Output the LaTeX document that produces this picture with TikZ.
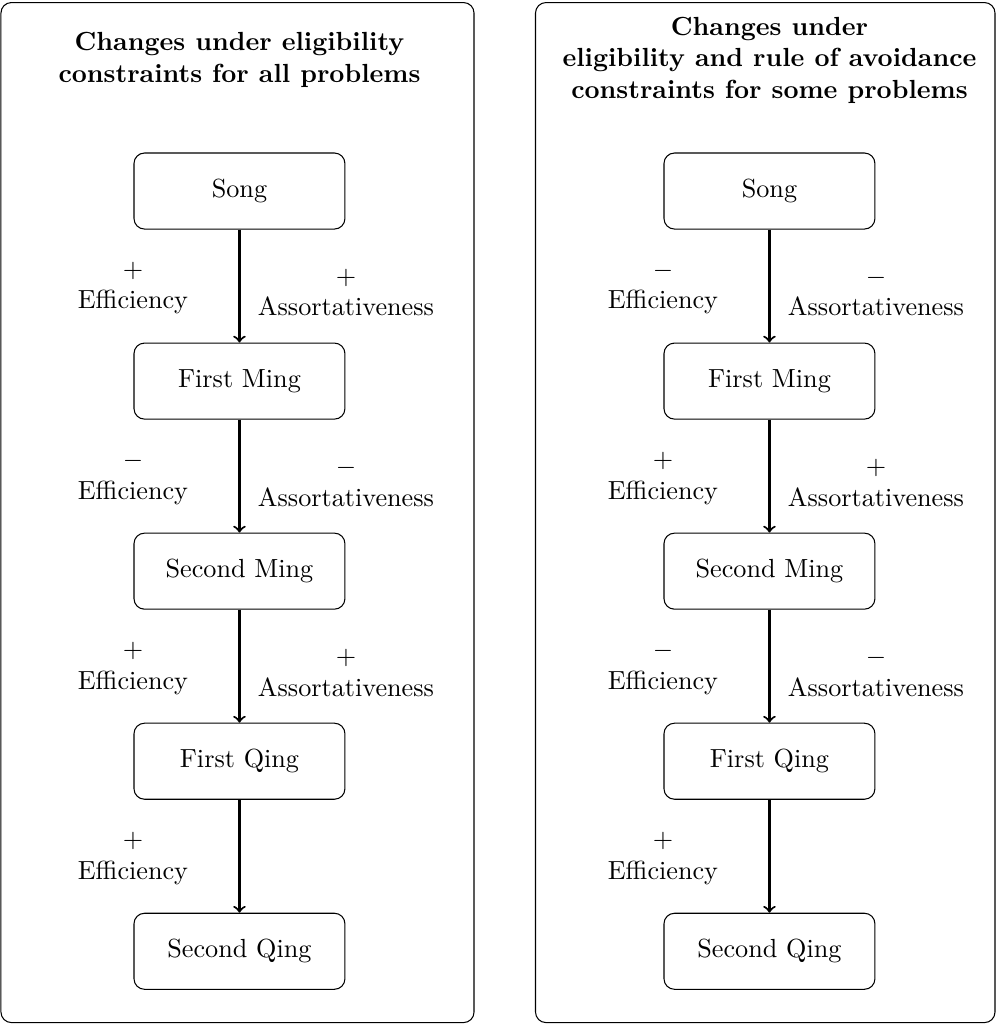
\documentclass[tikz,border=0pt]{standalone}
\usepackage{amsmath, amssymb}
\usepackage{tikz}
\usetikzlibrary{positioning}

\begin{document}
\begin{tikzpicture}[
        era/.style={draw, rounded corners, minimum width=2.83cm, minimum height=1.02cm},
        change/.style={align=center},
        heading/.style={align=center, font=\bfseries},
        flow/.style={->, thick}
    ]
        \pgfmathsetmacro{\leftCenter}{3.213}
        \pgfmathsetmacro{\rightCenter}{10.324}
        \pgfmathsetmacro{\boxGap}{1.516}
        \pgfmathsetmacro{\labelOffset}{1.429}
        \pgfmathsetmacro{\firstRow}{-2.563}

        \useasboundingbox (0, 0) rectangle (13.363, -13.766);

        % panels
        \draw[rounded corners] (0.013, -0.034) rectangle (6.36, -13.72);
        \draw[rounded corners] (7.185, -0.034) rectangle (13.35, -13.72);

        % left panel
        \node[heading] (leftTitle) at (\leftCenter, -0.805)
            {Changes under eligibility\\constraints for all problems};
        \node[era] (leftSong) at (\leftCenter, \firstRow) {Song};
        \node[era, below=\boxGap cm of leftSong] (leftFirstMing) {First Ming};
        \node[era, below=\boxGap cm of leftFirstMing] (leftSecondMing) {Second Ming};
        \node[era, below=\boxGap cm of leftSecondMing] (leftFirstQing) {First Qing};
        \node[era, below=\boxGap cm of leftFirstQing] (leftSecondQing) {Second Qing};

        \draw[flow] (leftSong) --
            node[change, xshift=-\labelOffset cm, yshift=-0.03cm]{$+$\\Efficiency}
            node[change, xshift=+\labelOffset cm, yshift=-0.09cm]{$+$\\Assortativeness} (leftFirstMing);
        \draw[flow] (leftFirstMing) --
            node[change, xshift=-\labelOffset cm, yshift=-0.03cm]{$-$\\Efficiency}
            node[change, xshift=+\labelOffset cm, yshift=-0.09cm]{$-$\\Assortativeness} (leftSecondMing);
        \draw[flow] (leftSecondMing) --
            node[change, xshift=-\labelOffset cm, yshift=-0.03cm]{$+$\\Efficiency}
            node[change, xshift=+\labelOffset cm, yshift=-0.09cm]{$+$\\Assortativeness} (leftFirstQing);
        \draw[flow] (leftFirstQing) --
            node[change, xshift=-\labelOffset cm, yshift=-0.03cm]{$+$\\Efficiency} (leftSecondQing);

        % right panel
        \node[heading] (rightTitle) at (\rightCenter, -0.805)
            {Changes under\\eligibility and rule of avoidance\\constraints for some problems};
        \node[era] (rightSong) at (\rightCenter, \firstRow) {Song};
        \node[era, below=\boxGap cm of rightSong] (rightFirstMing) {First Ming};
        \node[era, below=\boxGap cm of rightFirstMing] (rightSecondMing) {Second Ming};
        \node[era, below=\boxGap cm of rightSecondMing] (rightFirstQing) {First Qing};
        \node[era, below=\boxGap cm of rightFirstQing] (rightSecondQing) {Second Qing};

        \draw[flow] (rightSong) --
            node[change, xshift=-\labelOffset cm, yshift=-0.03cm]{$-$\\Efficiency}
            node[change, xshift=+\labelOffset cm, yshift=-0.09cm]{$-$\\Assortativeness} (rightFirstMing);
        \draw[flow] (rightFirstMing) --
            node[change, xshift=-\labelOffset cm, yshift=-0.03cm]{$+$\\Efficiency}
            node[change, xshift=+\labelOffset cm, yshift=-0.09cm]{$+$\\Assortativeness} (rightSecondMing);
        \draw[flow] (rightSecondMing) --
            node[change, xshift=-\labelOffset cm, yshift=-0.03cm]{$-$\\Efficiency}
            node[change, xshift=+\labelOffset cm, yshift=-0.09cm]{$-$\\Assortativeness} (rightFirstQing);
        \draw[flow] (rightFirstQing) --
            node[change, xshift=-\labelOffset cm, yshift=-0.03cm]{$+$\\Efficiency} (rightSecondQing);
\end{tikzpicture}
\end{document}
